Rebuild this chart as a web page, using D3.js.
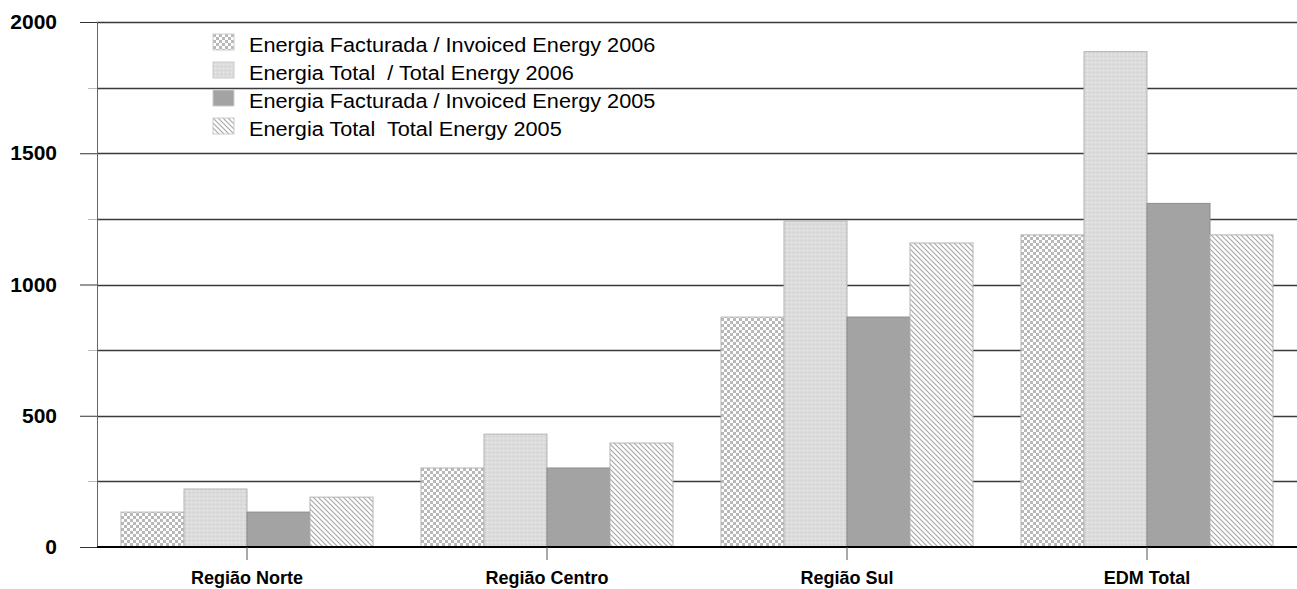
<!DOCTYPE html>
<html>
<head>
<meta charset="utf-8">
<script src="https://cdn.jsdelivr.net/npm/d3@7"></script>
<style>
  body { margin: 0; background: #fff; }
  svg { display: block; font-family: "Liberation Sans", Arial, sans-serif; }
</style>
</head>
<body>
<svg id="chart"></svg>
<script>
let regions = ["Região Norte", "Região Centro", "Região Sul", "EDM Total"];
let seriesNames = [
  "Energia Facturada / Invoiced Energy 2006",
  "Energia Total  / Total Energy 2006",
  "Energia Facturada / Invoiced Energy 2005",
  "Energia Total  Total Energy 2005"
];
let invoiced2006 = [133, 301, 876, 1189];
let total2006 = [221, 430, 1242, 1887];
let invoiced2005 = [133, 301, 876, 1309];
let total2005 = [190, 396, 1158, 1189];
let yTicks = [0, 500, 1000, 1500, 2000];
let yMinorTicks = [250, 750, 1250, 1750];

let seriesValues = [invoiced2006, total2006, invoiced2005, total2005];
let fills = ["url(#checker)", "url(#dots)", "#a3a3a3", "url(#stripes)"];

let width = 1297;
let height = 589;
let plotLeft = 97;
let plotRight = 1297;
let plotTop = 22;
let plotBottom = 547;

let svg = d3.select("#chart").attr("width", width).attr("height", height);

// patterns
let defs = svg.append("defs");
let checker = defs.append("pattern").attr("id", "checker")
  .attr("patternUnits", "userSpaceOnUse").attr("width", 6).attr("height", 6);
checker.append("rect").attr("width", 6).attr("height", 6).attr("fill", "#fff");
checker.append("rect").attr("width", 3).attr("height", 3).attr("fill", "#b8b8b8");
checker.append("rect").attr("x", 3).attr("y", 3).attr("width", 3).attr("height", 3).attr("fill", "#b8b8b8");

let dots = defs.append("pattern").attr("id", "dots")
  .attr("patternUnits", "userSpaceOnUse").attr("width", 4).attr("height", 4);
dots.append("rect").attr("width", 4).attr("height", 4).attr("fill", "#dcdcdc");
dots.append("rect").attr("width", 1).attr("height", 1).attr("fill", "#cacaca");
dots.append("rect").attr("x", 2).attr("y", 2).attr("width", 1).attr("height", 1).attr("fill", "#eaeaea");

let stripes = defs.append("pattern").attr("id", "stripes")
  .attr("patternUnits", "userSpaceOnUse").attr("width", 5).attr("height", 5);
stripes.append("rect").attr("width", 5).attr("height", 5).attr("fill", "#fff");
stripes.append("path").attr("d", "M-1,-1 L6,6 M-1,4 L1,6 M4,-1 L6,1")
  .attr("stroke", "#a8a8a8").attr("stroke-width", 1.2);

let yScale = d3.scaleLinear().domain([0, 2000]).range([plotBottom, plotTop]);
let xScale = d3.scaleBand().domain(regions).range([plotLeft, plotRight]).paddingInner(0.16).paddingOuter(0.08);
let xInner = d3.scaleBand().domain(d3.range(4)).range([0, xScale.bandwidth()]);

// gridlines
svg.append("g").selectAll("line")
  .data(yTicks.concat(yMinorTicks).filter(d => d > 0))
  .enter().append("line")
  .attr("x1", plotLeft).attr("x2", plotRight)
  .attr("y1", d => Math.round(yScale(d)) + 0.5)
  .attr("y2", d => Math.round(yScale(d)) + 0.5)
  .attr("stroke", "#3a3a3a").attr("stroke-width", 1.4);

// bars
let groups = svg.append("g").selectAll("g")
  .data(regions).enter().append("g")
  .attr("transform", d => "translate(" + xScale(d) + ",0)");

groups.selectAll("rect")
  .data((d, i) => seriesValues.map((vals, s) => ({ s: s, v: vals[i] })))
  .enter().append("rect")
  .attr("x", d => xInner(d.s))
  .attr("width", xInner.bandwidth())
  .attr("y", d => yScale(d.v))
  .attr("height", d => plotBottom - yScale(d.v))
  .attr("fill", d => fills[d.s])
  .attr("stroke", d => d.s == 2 ? "#8c8c8c" : "#b4b4b4")
  .attr("stroke-width", 1);

// y axis
let yAxis = d3.axisLeft(yScale).tickValues(yTicks).tickSize(17).tickPadding(23).tickFormat(d3.format("d"));
let yG = svg.append("g").attr("transform", "translate(" + plotLeft + ",0)").call(yAxis);
yG.select(".domain").remove();
yG.selectAll("line").attr("stroke", "#333");
yG.selectAll("text").attr("font-size", 21).attr("font-weight", "bold").attr("fill", "#000")
  .attr("font-family", "Liberation Sans, Arial, sans-serif");

svg.append("g").selectAll("line").data(yMinorTicks).enter().append("line")
  .attr("x1", plotLeft - 9).attr("x2", plotLeft)
  .attr("y1", d => Math.round(yScale(d)) + 0.5).attr("y2", d => Math.round(yScale(d)) + 0.5)
  .attr("stroke", "#bbb");

svg.append("line").attr("x1", plotLeft + 0.5).attr("x2", plotLeft + 0.5)
  .attr("y1", plotTop).attr("y2", plotBottom).attr("stroke", "#666").attr("stroke-width", 1);

// x axis
let xAxis = d3.axisBottom(xScale).tickSize(13).tickPadding(11);
let xG = svg.append("g").attr("transform", "translate(0," + plotBottom + ")").call(xAxis);
xG.select(".domain").attr("stroke", "#000").attr("stroke-width", 2).attr("d", "M" + plotLeft + ",0H" + plotRight);
xG.selectAll("line").attr("stroke", "#555");
xG.selectAll("text").attr("font-size", 18).attr("font-weight", "bold").attr("fill", "#000")
  .attr("font-family", "Liberation Sans, Arial, sans-serif");

// legend
let legend = svg.append("g").attr("transform", "translate(213,34)");
let items = legend.selectAll("g").data(seriesNames).enter().append("g")
  .attr("transform", (d, i) => "translate(0," + (i * 28) + ")");
items.append("rect").attr("width", 21).attr("height", 16)
  .attr("fill", (d, i) => fills[i]).attr("stroke", "#ccc");
items.append("text").attr("transform", "translate(36,18) scale(1.085,1)")
  .attr("font-size", 20).attr("fill", "#000")
  .style("white-space", "pre").text(d => d);
</script>
</body>
</html>
